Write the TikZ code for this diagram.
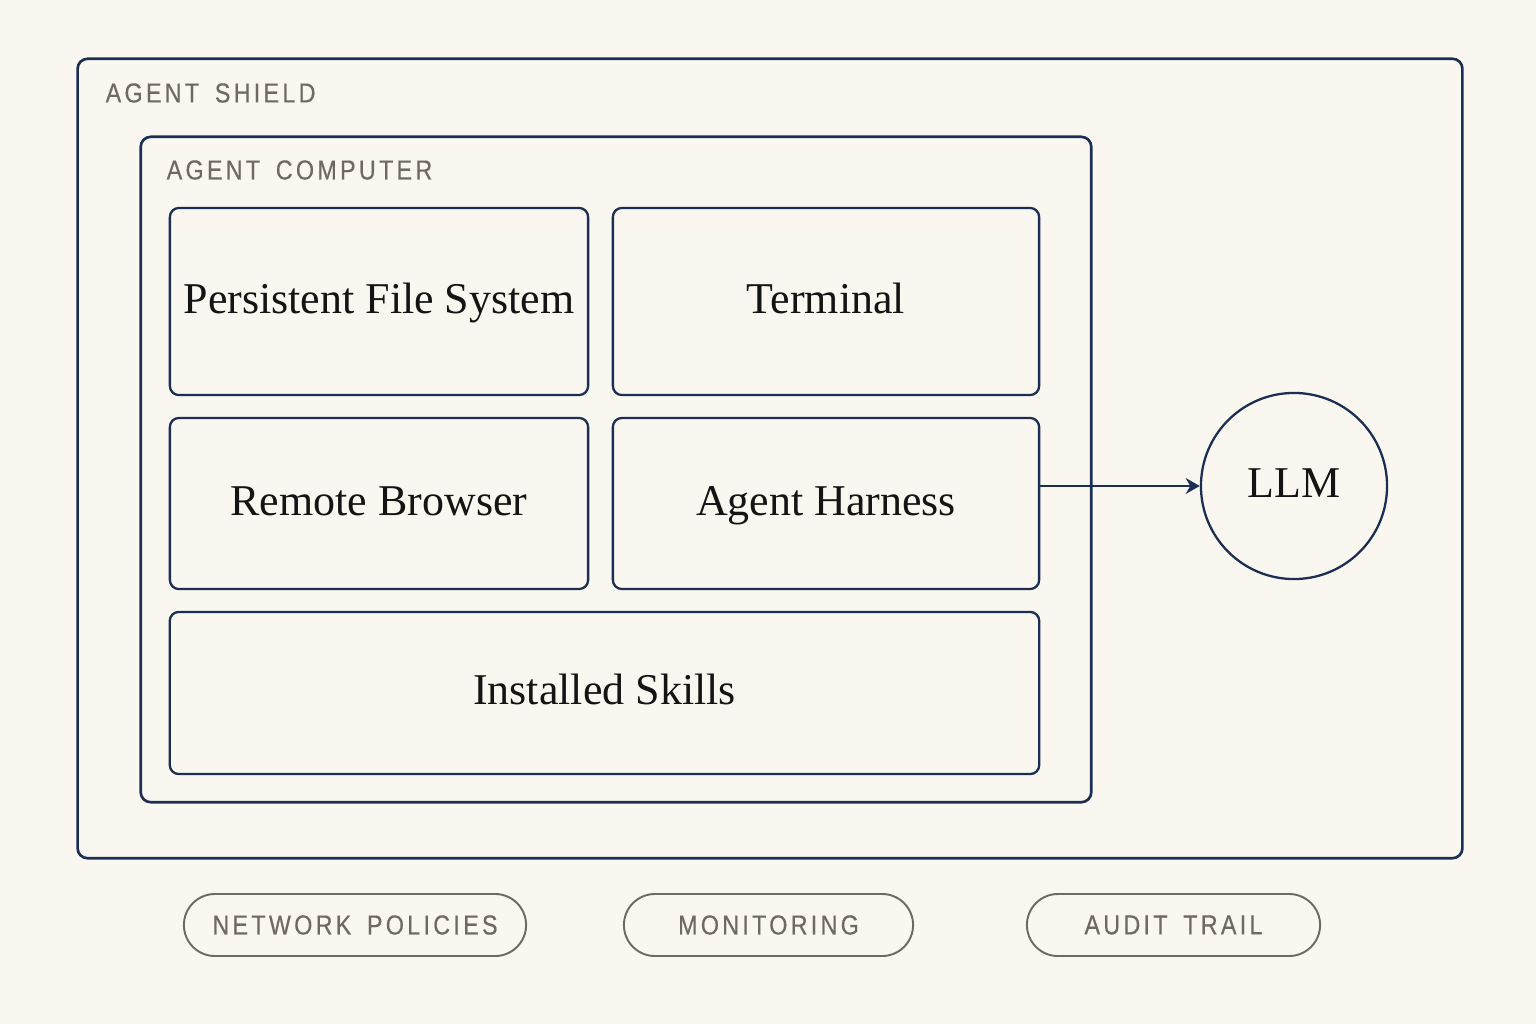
\documentclass[tikz,border=0pt]{standalone}
\usepackage{fontspec}
\setmainfont{Liberation Serif}
\newfontfamily\capsfont[LetterSpace=12, WordSpace=1.6, FakeStretch=0.85, FakeBold=0.4]{Liberation Sans}
\usepackage{tikz}
\usetikzlibrary{arrows.meta}
\usepackage{xcolor}
\definecolor{navy}{HTML}{1B2E54}
\definecolor{ink}{HTML}{141414}
\definecolor{slate}{HTML}{6E6A63}
\definecolor{paper}{HTML}{FAF7F0}

\begin{document}
\begin{tikzpicture}[x=0.01cm, y=-0.01cm,
        % Define the styles for frames, parts and pills
        frame/.style={draw=navy, line width=0.75pt, rounded corners=0.1cm, inner sep=0pt},
        part/.style={draw=navy, line width=0.65pt, rounded corners=0.09cm, text=ink, inner sep=0pt,
            text height=0.66em, text depth=0pt, font=\fontsize{12.5}{14}\selectfont},
        pill/.style={draw=slate, line width=0.55pt, rounded corners=0.31cm,
            minimum height=0.62cm, text=slate, font=\capsfont\fontsize{7.8}{8}\selectfont},
        tag/.style={anchor=west, text=slate, inner sep=0pt, font=\capsfont\fontsize{7.8}{8}\selectfont},
        flow/.style={draw=navy, line width=0.55pt, -{Stealth[length=4pt, width=4.5pt]}}]

        % 1. Background and page size
        \fill[paper] (0,0) rectangle (1536,1024);
        \useasboundingbox (0,0) rectangle (1536,1024);

        % 2. The two outer frames
        \node[frame, minimum width=13.84cm, minimum height=7.99cm] (shield) at (770,458.5) {};
        \node[frame, minimum width=9.50cm, minimum height=6.65cm] (computer) at (616,469.5) {};
        \node[tag] (shieldtag) at (105,93) {AGENT SHIELD};
        \node[tag] (computertag) at (166,170) {AGENT COMPUTER};

        % 3. Parts of the agent computer
        \node[part, minimum width=4.18cm, minimum height=1.87cm] (pfs) at (379,301.5) {Persistent File System};
        \node[part, minimum width=4.26cm, minimum height=1.87cm] (terminal) at (826,301.5) {Terminal};
        \node[part, minimum width=4.18cm, minimum height=1.71cm] (browser) at (379,503.5) {Remote Browser};
        \node[part, minimum width=4.26cm, minimum height=1.71cm] (harness) at (826,503.5) {Agent Harness};
        \node[part, minimum width=8.69cm, minimum height=1.62cm] (skills) at (604.5,693) {Installed Skills};

        % 4. The model and the link to it
        \node[part, circle, minimum size=1.86cm] (llm) at (1294,486) {LLM};
        \draw[flow] (harness.east |- llm.west) -- (llm.west);

        % 5. Controls along the bottom
        \node[pill, minimum width=3.42cm] (network) at (355,925) {NETWORK POLICIES};
        \node[pill, minimum width=2.89cm] (monitoring) at (768.5,925) {MONITORING};
        \node[pill, minimum width=2.93cm] (audit) at (1173.5,925) {AUDIT TRAIL};

\end{tikzpicture}
\end{document}
